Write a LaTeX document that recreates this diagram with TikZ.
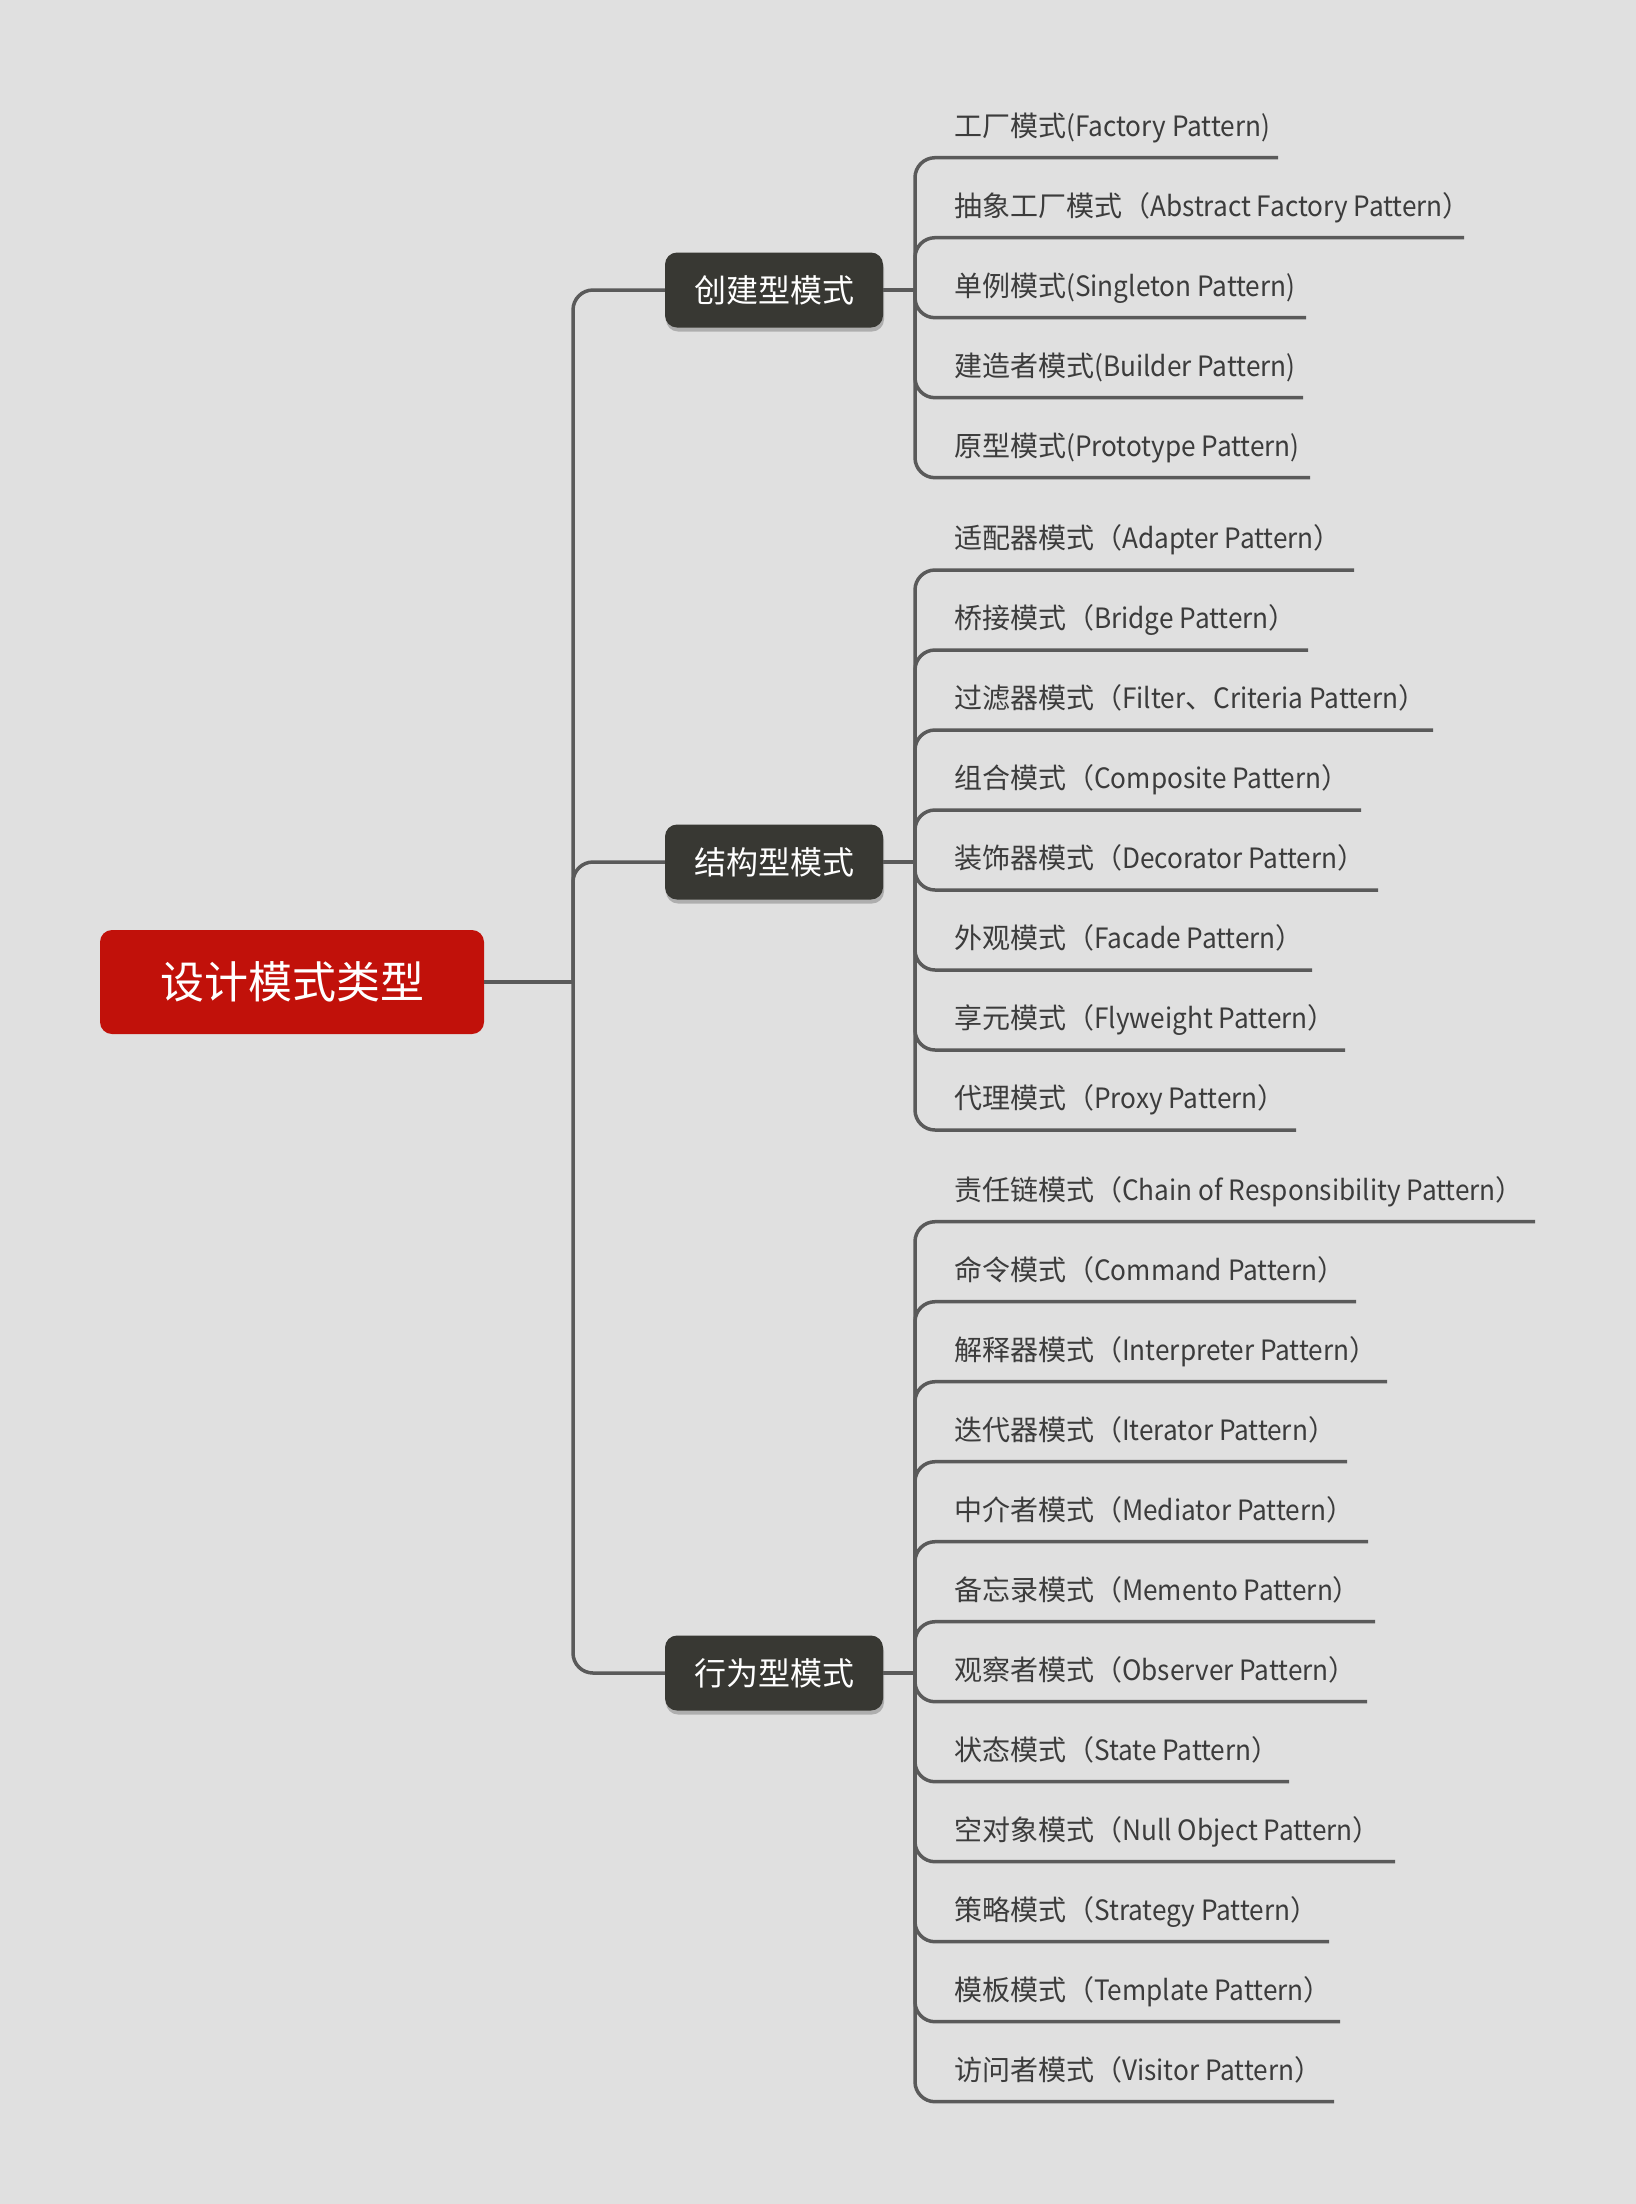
\documentclass[tikz,border=0pt]{standalone}
\usepackage{fontspec}
\setmainfont{Noto Sans CJK SC}
\newfontfamily\latf[FakeStretch=0.935]{Noto Sans CJK SC}
\newcommand\lt[1]{{\latf #1}}
\usetikzlibrary{shadows}
\definecolor{bgc}{HTML}{E0E0E0}
\definecolor{linec}{HTML}{5A5A5A}
\definecolor{rootc}{HTML}{C1110A}
\definecolor{catc}{HTML}{383833}
\definecolor{leaftxt}{HTML}{3C3C3C}
\tikzset{
  link/.style={draw=linec, line width=3.5pt},
  rootbox/.style={fill=rootc, rounded corners=12pt, minimum width=384pt, minimum height=104pt,
    inner sep=0pt, text=white, font=\fontsize{44}{52}\selectfont},
  catbox/.style={fill=catc, rounded corners=12pt, minimum width=218pt, minimum height=75pt,
    inner sep=0pt, text=white, font=\fontsize{32}{38}\selectfont,
    drop shadow={shadow xshift=1pt, shadow yshift=-4pt, opacity=0.22, fill=black}},
  leaf/.style={anchor=base west, inner sep=0pt, text=leaftxt, font=\fontsize{28}{34}\selectfont},
}
\begin{document}
\begin{tikzpicture}[x=1pt, y=-1pt]
\fill[bgc] (0,0) rectangle (1636,2204);
\useasboundingbox (0,0) rectangle (1636,2204);

% root and categories
\node[rootbox] (root) at (292,982) {设计模式类型};
\node[catbox] (c1) at (774,290) {创建型模式};
\node[catbox] (c2) at (774,862) {结构型模式};
\node[catbox] (c3) at (774,1673) {行为型模式};

\coordinate (h0) at (573,982);
\draw[link] (root.east) -- (h0);
\foreach \c in {c1,c2,c3}{
  \draw[link, rounded corners=20pt] (h0) |- (\c.west);
}

% hubs of the leaf groups
\coordinate (h1) at (915,290);
\coordinate (h2) at (915,862);
\coordinate (h3) at (915,1673);
\draw[link] (c1.east) -- (h1);
\draw[link] (c2.east) -- (h2);
\draw[link] (c3.east) -- (h3);

% group 1
\foreach \i/\y/\e/\t in {
  1/157.7/1278/{工厂模式\lt{(Factory Pattern)}},
  2/237.7/1464/{抽象工厂模式（\lt{Abstract Factory Pattern}）},
  3/317.7/1306/{单例模式\lt{(Singleton Pattern)}},
  4/397.7/1303/{建造者模式\lt{(Builder Pattern)}},
  5/477.7/1310/{原型模式\lt{(Prototype Pattern)}}}{
  \node[leaf] (g1-\i) at (954,\y-21.5) {\t};
  \coordinate (g1-\i-end) at (\e,\y);
  \draw[link, rounded corners=20pt] (h1) |- (g1-\i-end);
}

% group 2
\foreach \i/\y/\e/\t in {
  1/570/1354/{适配器模式（\lt{Adapter Pattern}）},
  2/650/1308/{桥接模式（\lt{Bridge Pattern}）},
  3/730/1433/{过滤器模式（\lt{Filter}、\lt{Criteria Pattern}）},
  4/810/1361/{组合模式（\lt{Composite Pattern}）},
  5/890/1378/{装饰器模式（\lt{Decorator Pattern}）},
  6/970/1312/{外观模式（\lt{Facade Pattern}）},
  7/1050/1345/{享元模式（\lt{Flyweight Pattern}）},
  8/1130/1296/{代理模式（\lt{Proxy Pattern}）}}{
  \node[leaf] (g2-\i) at (954,\y-21.5) {\t};
  \coordinate (g2-\i-end) at (\e,\y);
  \draw[link, rounded corners=20pt] (h2) |- (g2-\i-end);
}

% group 3
\foreach \i/\y/\e/\t in {
  1/1221.7/1535/{责任链模式（\lt{Chain of Responsibility Pattern}）},
  2/1301.7/1356/{命令模式（\lt{Command Pattern}）},
  3/1381.7/1387/{解释器模式（\lt{Interpreter Pattern}）},
  4/1461.7/1347/{迭代器模式（\lt{Iterator Pattern}）},
  5/1541.7/1368/{中介者模式（\lt{Mediator Pattern}）},
  6/1621.7/1375/{备忘录模式（\lt{Memento Pattern}）},
  7/1701.7/1367/{观察者模式（\lt{Observer Pattern}）},
  8/1781.7/1289/{状态模式（\lt{State Pattern}）},
  9/1861.7/1395/{空对象模式（\lt{Null Object Pattern}）},
  10/1941.7/1329/{策略模式（\lt{Strategy Pattern}）},
  11/2021.7/1340/{模板模式（\lt{Template Pattern}）},
  12/2101.7/1334/{访问者模式（\lt{Visitor Pattern}）}}{
  \node[leaf] (g3-\i) at (954,\y-21.5) {\t};
  \coordinate (g3-\i-end) at (\e,\y);
  \draw[link, rounded corners=20pt] (h3) |- (g3-\i-end);
}
\end{tikzpicture}
\end{document}
